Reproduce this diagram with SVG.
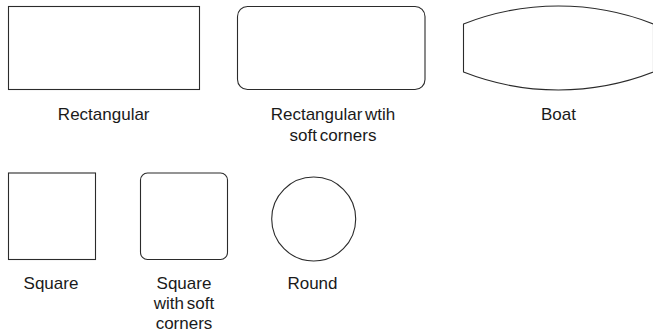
<svg xmlns="http://www.w3.org/2000/svg" width="653" height="334" viewBox="0 0 653 334">
<style>
.s{fill:#fff;stroke:#2b2b2b;stroke-width:1.1}
.t{font-family:"Liberation Sans",Arial,sans-serif;font-size:17px;fill:#1a1a1a;text-anchor:middle;word-spacing:-2px}
</style>
<rect width="653" height="334" fill="#fff"/>
<g id="rectangular">
<rect class="s" x="8.5" y="6.5" width="191" height="83"/>
<text class="t" x="103.7" y="120">Rectangular</text>
</g>
<g id="rectangular-soft">
<rect class="s" x="237.5" y="6.5" width="187.5" height="83" rx="10"/>
<text class="t" x="333" y="120">Rectangular wtih</text>
<text class="t" x="333" y="141">soft corners</text>
</g>
<g id="boat">
<path class="s" d="M463.5,24 A260,260 0 0 1 653.5,24 L653.5,72 A260,260 0 0 1 463.5,72 Z"/>
<text class="t" x="558.5" y="120">Boat</text>
</g>
<g id="square">
<rect class="s" x="8.5" y="173" width="87" height="86.5"/>
<text class="t" x="51" y="288.5">Square</text>
</g>
<g id="square-soft">
<rect class="s" x="140.5" y="173" width="87" height="86.5" rx="7"/>
<text class="t" x="184" y="288.5">Square</text>
<text class="t" x="184" y="308.5">with soft</text>
<text class="t" x="184" y="328.5">corners</text>
</g>
<g id="round">
<circle class="s" cx="313.7" cy="219" r="42"/>
<text class="t" x="312.5" y="289">Round</text>
</g>
<g id="connectors"/>
</svg>
